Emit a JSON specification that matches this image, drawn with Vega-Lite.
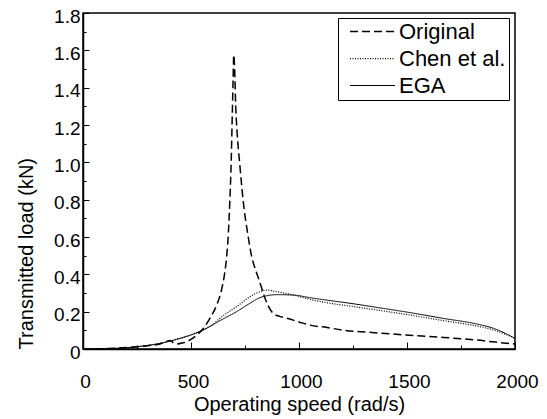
{
  "$schema": "https://vega.github.io/schema/vega-lite/v6.json",
  "width": 432,
  "height": 336,
  "autosize": {"type": "none"},
  "padding": {"left": 83, "top": 13, "right": 32, "bottom": 70},
  "background": "white",
  "config": {
    "font": "Liberation Sans",
    "view": {"stroke": "black", "strokeWidth": 1.5},
    "axis": {
      "grid": false,
      "domainColor": "black",
      "domainWidth": 1.5,
      "tickColor": "black",
      "tickWidth": 1,
      "labelColor": "black",
      "titleColor": "black",
      "labelFont": "Liberation Sans",
      "titleFont": "Liberation Sans",
      "labelFontSize": 19,
      "titleFontSize": 20,
      "titleFontWeight": "normal",
      "labelFlush": false
    },
    "legend": {
      "labelFont": "Liberation Sans",
      "labelColor": "black"
    }
  },
  "data": {
    "values": [
      {"series": "Original", "speed": 0, "load": 0},
      {"series": "Original", "speed": 100, "load": 0.002},
      {"series": "Original", "speed": 200, "load": 0.008},
      {"series": "Original", "speed": 300, "load": 0.018},
      {"series": "Original", "speed": 356, "load": 0.027},
      {"series": "Original", "speed": 385, "load": 0.04},
      {"series": "Original", "speed": 403, "load": 0.046},
      {"series": "Original", "speed": 420, "load": 0.032},
      {"series": "Original", "speed": 434, "load": 0.027},
      {"series": "Original", "speed": 460, "load": 0.032},
      {"series": "Original", "speed": 480, "load": 0.039},
      {"series": "Original", "speed": 500, "load": 0.052},
      {"series": "Original", "speed": 526, "load": 0.074},
      {"series": "Original", "speed": 557, "load": 0.11},
      {"series": "Original", "speed": 588, "load": 0.165},
      {"series": "Original", "speed": 619, "load": 0.236},
      {"series": "Original", "speed": 640, "load": 0.31},
      {"series": "Original", "speed": 655, "load": 0.40},
      {"series": "Original", "speed": 665, "load": 0.494},
      {"series": "Original", "speed": 673, "load": 0.62},
      {"series": "Original", "speed": 680, "load": 0.8},
      {"series": "Original", "speed": 686, "load": 1.0},
      {"series": "Original", "speed": 691, "load": 1.25},
      {"series": "Original", "speed": 695, "load": 1.45},
      {"series": "Original", "speed": 698, "load": 1.575},
      {"series": "Original", "speed": 702, "load": 1.5},
      {"series": "Original", "speed": 707, "load": 1.3},
      {"series": "Original", "speed": 714, "load": 1.15},
      {"series": "Original", "speed": 725, "load": 1.0},
      {"series": "Original", "speed": 741, "load": 0.80},
      {"series": "Original", "speed": 765, "load": 0.60},
      {"series": "Original", "speed": 780, "load": 0.50},
      {"series": "Original", "speed": 797, "load": 0.43},
      {"series": "Original", "speed": 812, "load": 0.38},
      {"series": "Original", "speed": 829, "load": 0.32},
      {"series": "Original", "speed": 843, "load": 0.27},
      {"series": "Original", "speed": 858, "load": 0.23},
      {"series": "Original", "speed": 881, "load": 0.19},
      {"series": "Original", "speed": 910, "load": 0.175},
      {"series": "Original", "speed": 943, "load": 0.165},
      {"series": "Original", "speed": 1000, "load": 0.145},
      {"series": "Original", "speed": 1051, "load": 0.128},
      {"series": "Original", "speed": 1130, "load": 0.115},
      {"series": "Original", "speed": 1205, "load": 0.101},
      {"series": "Original", "speed": 1320, "load": 0.09},
      {"series": "Original", "speed": 1437, "load": 0.08},
      {"series": "Original", "speed": 1550, "load": 0.071},
      {"series": "Original", "speed": 1668, "load": 0.062},
      {"series": "Original", "speed": 1750, "load": 0.055},
      {"series": "Original", "speed": 1823, "load": 0.048},
      {"series": "Original", "speed": 1910, "load": 0.037},
      {"series": "Original", "speed": 2000, "load": 0.027},

      {"series": "Chen et al.", "speed": 0, "load": 0},
      {"series": "Chen et al.", "speed": 94, "load": 0.001},
      {"series": "Chen et al.", "speed": 248, "load": 0.011},
      {"series": "Chen et al.", "speed": 356, "load": 0.03},
      {"series": "Chen et al.", "speed": 434, "load": 0.052},
      {"series": "Chen et al.", "speed": 511, "load": 0.08},
      {"series": "Chen et al.", "speed": 557, "load": 0.103},
      {"series": "Chen et al.", "speed": 600, "load": 0.13},
      {"series": "Chen et al.", "speed": 634, "load": 0.165},
      {"series": "Chen et al.", "speed": 711, "load": 0.227},
      {"series": "Chen et al.", "speed": 773, "load": 0.28},
      {"series": "Chen et al.", "speed": 819, "load": 0.307},
      {"series": "Chen et al.", "speed": 850, "load": 0.316},
      {"series": "Chen et al.", "speed": 897, "load": 0.307},
      {"series": "Chen et al.", "speed": 974, "load": 0.289},
      {"series": "Chen et al.", "speed": 1051, "load": 0.266},
      {"series": "Chen et al.", "speed": 1128, "load": 0.248},
      {"series": "Chen et al.", "speed": 1236, "load": 0.23},
      {"series": "Chen et al.", "speed": 1360, "load": 0.209},
      {"series": "Chen et al.", "speed": 1514, "load": 0.182},
      {"series": "Chen et al.", "speed": 1668, "load": 0.152},
      {"series": "Chen et al.", "speed": 1823, "load": 0.123},
      {"series": "Chen et al.", "speed": 1900, "load": 0.102},
      {"series": "Chen et al.", "speed": 2000, "load": 0.058},

      {"series": "EGA", "speed": 0, "load": 0},
      {"series": "EGA", "speed": 94, "load": 0.001},
      {"series": "EGA", "speed": 248, "load": 0.012},
      {"series": "EGA", "speed": 356, "load": 0.03},
      {"series": "EGA", "speed": 434, "load": 0.052},
      {"series": "EGA", "speed": 511, "load": 0.08},
      {"series": "EGA", "speed": 557, "load": 0.102},
      {"series": "EGA", "speed": 634, "load": 0.152},
      {"series": "EGA", "speed": 711, "load": 0.2},
      {"series": "EGA", "speed": 773, "load": 0.245},
      {"series": "EGA", "speed": 819, "load": 0.275},
      {"series": "EGA", "speed": 850, "load": 0.285},
      {"series": "EGA", "speed": 897, "load": 0.291},
      {"series": "EGA", "speed": 974, "load": 0.289},
      {"series": "EGA", "speed": 1051, "load": 0.275},
      {"series": "EGA", "speed": 1128, "load": 0.262},
      {"series": "EGA", "speed": 1236, "load": 0.245},
      {"series": "EGA", "speed": 1360, "load": 0.223},
      {"series": "EGA", "speed": 1514, "load": 0.195},
      {"series": "EGA", "speed": 1668, "load": 0.164},
      {"series": "EGA", "speed": 1823, "load": 0.134},
      {"series": "EGA", "speed": 1900, "load": 0.111},
      {"series": "EGA", "speed": 2000, "load": 0.057}
    ]
  },
  "mark": {"type": "line", "color": "black", "interpolate": "monotone", "clip": true},
  "encoding": {
    "x": {
      "field": "speed",
      "type": "quantitative",
      "scale": {"domain": [0, 2000], "nice": false, "zero": false},
      "axis": {
        "title": "Operating speed (rad/s)",
        "values": [0, 250, 500, 750, 1000, 1250, 1500, 1750, 2000],
        "labelExpr": "datum.value % 500 == 0 ? datum.label : ''",
        "format": "d",
        "tickSize": {"condition": {"test": "datum.value % 500 == 0", "value": -7}, "value": -4},
        "labelPadding": 30,
        "labelOffset": 2,
        "titlePadding": 3
      }
    },
    "y": {
      "field": "load",
      "type": "quantitative",
      "scale": {"domain": [0, 1.8], "nice": false},
      "axis": {
        "title": "Transmitted load (kN)",
        "titleAnchor": "start",
        "values": [0, 0.1, 0.2, 0.3, 0.4, 0.5, 0.6, 0.7, 0.8, 0.9, 1.0, 1.1, 1.2, 1.3, 1.4, 1.5, 1.6, 1.7, 1.8],
        "labelExpr": "datum.value == 0 ? '0' : (round(datum.value * 10) % 2 == 0 ? format(datum.value, '.1f') : '')",
        "tickSize": {"condition": {"test": "round(datum.value * 10) % 2 == 0", "value": -6}, "value": -3},
        "labelPadding": 9,
        "labelOffset": 3,
        "titlePadding": 17
      }
    },
    "strokeDash": {
      "field": "series",
      "type": "nominal",
      "scale": {"domain": ["Original", "Chen et al.", "EGA"], "range": [[8, 4], [1, 1.5], [1, 0]]},
      "legend": {
        "title": null,
        "orient": "none",
        "legendX": 255,
        "legendY": 5,
        "padding": 3,
        "fillColor": "white",
        "strokeColor": "black",
        "symbolType": "stroke",
        "symbolSize": 2025,
        "symbolStrokeColor": "black",
        "symbolStrokeWidth": 1.5,
        "labelFontSize": 22,
        "labelOffset": 3,
        "symbolOffset": 8,
        "clipHeight": 21,
        "rowPadding": 4
      }
    },
    "strokeWidth": {
      "field": "series",
      "type": "nominal",
      "scale": {"domain": ["Original", "Chen et al.", "EGA"], "range": [1.5, 1, 1.8]},
      "legend": null
    }
  }
}
